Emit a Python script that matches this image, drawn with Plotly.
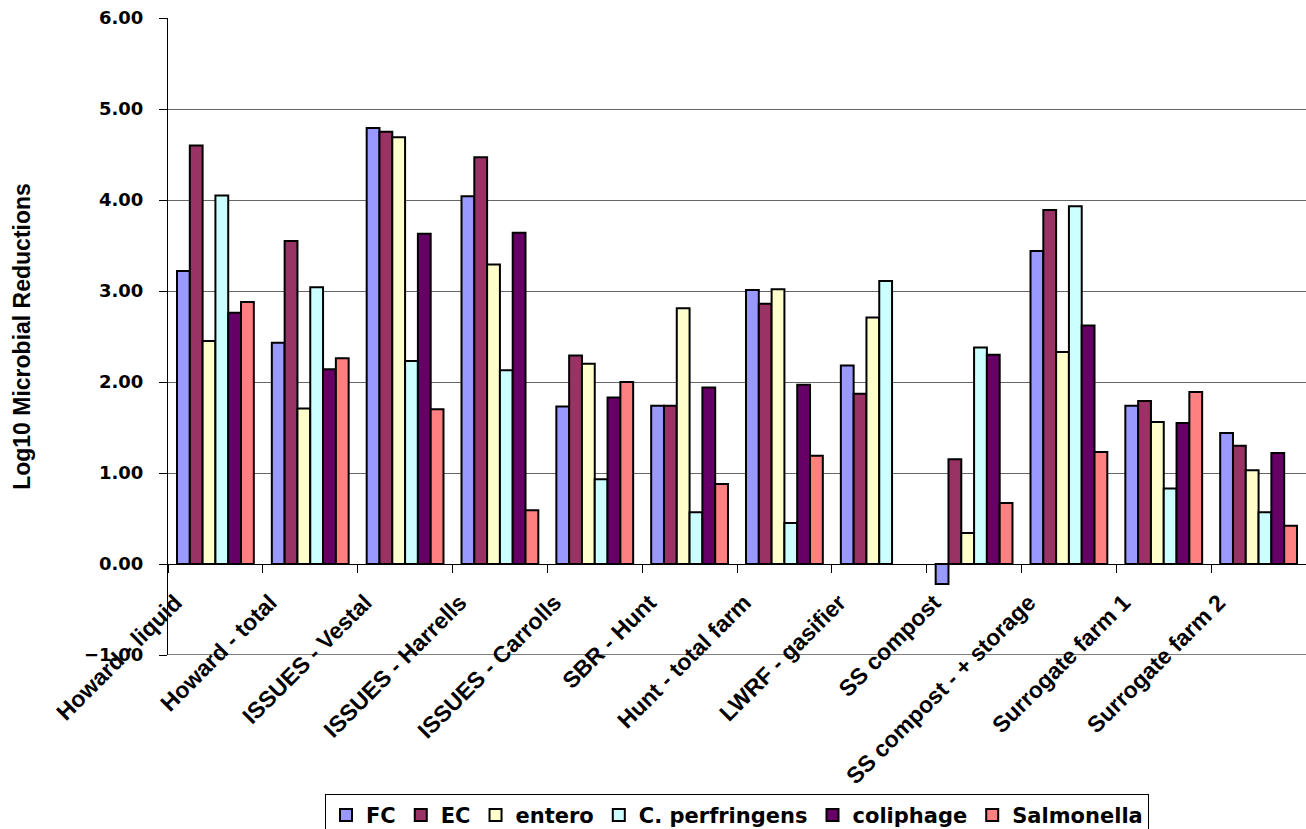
import plotly.graph_objects as go

# Treatment systems (x categories)
categories = [
    "Howard - liquid", "Howard - total", "ISSUES - Vestal", "ISSUES - Harrells",
    "ISSUES - Carrolls", "SBR - Hunt", "Hunt - total farm", "LWRF - gasifier",
    "SS compost", "SS compost - + storage", "Surrogate farm 1", "Surrogate farm 2",
]

# Log10 reductions per organism
fc = [3.22, 2.43, 4.79, 4.04, 1.73, 1.74, 3.01, 2.18, -0.22, 3.44, 1.74, 1.44]
ec = [4.60, 3.55, 4.75, 4.47, 2.29, 1.74, 2.86, 1.87, 1.15, 3.89, 1.79, 1.30]
entero = [2.45, 1.71, 4.69, 3.29, 2.20, 2.81, 3.02, 2.71, 0.34, 2.33, 1.56, 1.03]
c_perfringens = [4.05, 3.04, 2.23, 2.13, 0.93, 0.57, 0.45, 3.11, 2.38, 3.93, 0.83, 0.57]
coliphage = [2.76, 2.14, 3.63, 3.64, 1.83, 1.94, 1.97, None, 2.30, 2.62, 1.55, 1.22]
salmonella = [2.88, 2.26, 1.70, 0.59, 2.00, 0.88, 1.19, None, 0.67, 1.23, 1.89, 0.42]

y_ticks = [-1, 0, 1, 2, 3, 4, 5, 6]

series = [
    ("FC", fc, "#9999FF"),
    ("EC", ec, "#993366"),
    ("entero", entero, "#FFFFCC"),
    ("C. perfringens", c_perfringens, "#CCFFFF"),
    ("coliphage", coliphage, "#660066"),
    ("Salmonella", salmonella, "#FF8080"),
]

FONT = "Liberation Sans, Arial, sans-serif"
WIDE = "DejaVu Sans, Verdana, sans-serif"

fig = go.Figure()
for name, vals, color in series:
    fig.add_trace(go.Bar(
        name=name, x=categories, y=vals,
        marker=dict(color=color, line=dict(color="black", width=2)),
    ))

fig.update_layout(
    width=1306, height=829,
    margin=dict(l=168, r=0, t=18, b=174, autoexpand=False),
    paper_bgcolor="white", plot_bgcolor="white",
    barmode="group", bargap=0.19, bargroupgap=0,
    font=dict(family=FONT, color="black"),
    showlegend=True,
    legend=dict(
        orientation="h", x=0.5, xanchor="center", y=-0.218, yanchor="top",
        bordercolor="black", borderwidth=1, bgcolor="white",
        font=dict(family=WIDE, size=21, weight="bold"),
        traceorder="normal", itemwidth=30,
    ),
    xaxis=dict(
        anchor="free", position=1 / 7, automargin=False,
        showline=True, linecolor="black", linewidth=1,
        ticks="outside", ticklen=8, tickcolor="black", tickson="boundaries",
        tickangle=-45, ticklabelshift=-40, ticklabelstandoff=15,
        tickfont=dict(family=FONT, size=23, weight="bold"),
        showgrid=False,
    ),
    yaxis=dict(
        range=[-1, 6], tickvals=y_ticks, tickformat=".2f", automargin=False,
        showline=True, linecolor="black", linewidth=1,
        ticks="outside", ticklen=8, tickcolor="black", ticklabelstandoff=12,
        showgrid=True, gridcolor="#666666", gridwidth=1,
        zeroline=False,
        tickfont=dict(family=WIDE, size=18, weight="bold"),
        title=dict(text="Log10 Microbial Reductions", standoff=46,
                   font=dict(family=FONT, size=23, weight="bold")),
    ),
    shapes=[dict(type="line", xref="paper", yref="y", x0=0, x1=1, y0=-1, y1=-1,
                 line=dict(color="black", width=1))],
)

fig.write_html("out.html")
